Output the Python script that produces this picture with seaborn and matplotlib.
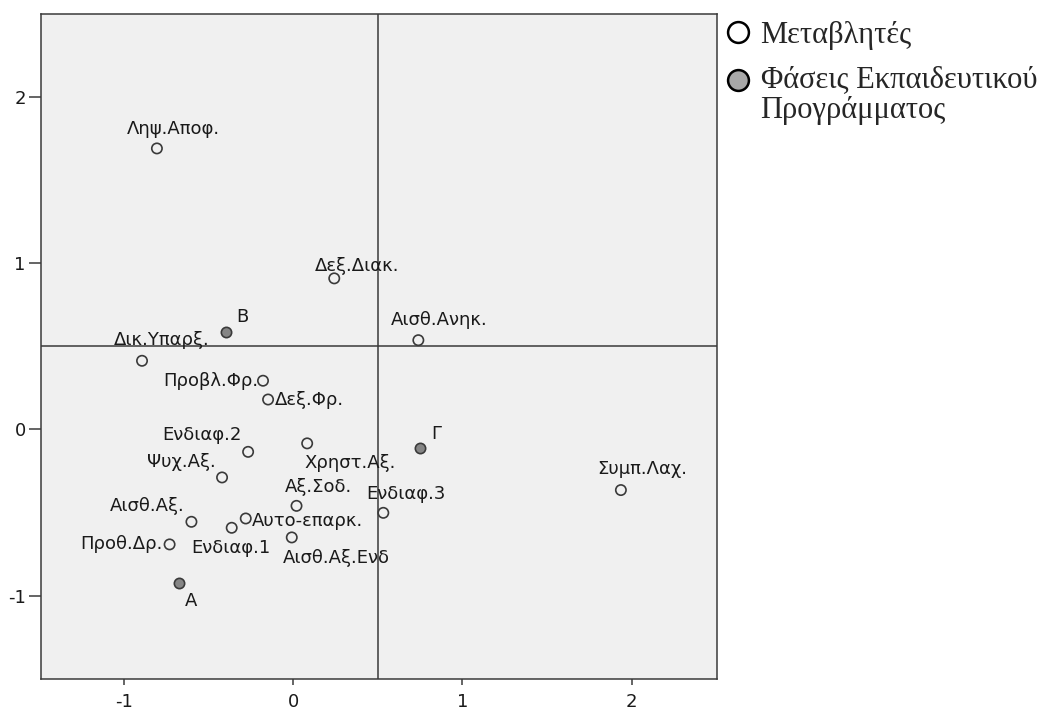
import matplotlib
matplotlib.use("Agg")
import matplotlib.pyplot as plt
import seaborn as sns
import pandas as pd
from matplotlib.lines import Line2D

# ---------------- data ----------------
var_labels = ["Ληψ.Αποφ.", "Δεξ.Διακ.", "Αισθ.Ανηκ.", "Δικ.Υπαρξ.", "Προβλ.Φρ.",
              "Δεξ.Φρ.", "Ενδιαφ.2", "Χρηστ.Αξ.", "Ψυχ.Αξ.", "Αξ.Σοδ.",
              "Ενδιαφ.3", "Αισθ.Αξ.", "Αυτο-επαρκ.", "Ενδιαφ.1", "Αισθ.Αξ.Ενδ",
              "Προθ.Δρ.", "Συμπ.Λαχ."]
var_x = [-0.805, 0.243, 0.740, -0.893, -0.178, -0.148, -0.266, 0.083, -0.420,
         0.020, 0.533, -0.601, -0.280, -0.363, -0.008, -0.730, 1.937]
var_y = [1.691, 0.909, 0.537, 0.413, 0.293, 0.180, -0.135, -0.084, -0.289,
         -0.460, -0.502, -0.556, -0.536, -0.592, -0.650, -0.692, -0.365]

phase_labels = ["Α", "Β", "Γ"]
phase_x = [-0.676, -0.396, 0.750]
phase_y = [-0.923, 0.584, -0.111]

legend_labels = ["Μεταβλητές", "Φάσεις Εκπαιδευτικού\nΠρογράμματος"]
x_ticks = [-1, 0, 1, 2]
y_ticks = [-1, 0, 1, 2]
ref_x = 0.5
ref_y = 0.5

# ---------------- layout: label offsets (px from point; dx, dy up, ha) -------
label_layout = {
    "Ληψ.Αποφ.": (-30, 19, "left"),
    "Δεξ.Διακ.": (-19, 12, "left"),
    "Αισθ.Ανηκ.": (-27, 20, "left"),
    "Δικ.Υπαρξ.": (-28, 21, "left"),
    "Προβλ.Φρ.": (-5, 0, "right"),
    "Δεξ.Φρ.": (7, 0, "left"),
    "Ενδιαφ.2": (-6, 17, "right"),
    "Χρηστ.Αξ.": (-3, -20, "left"),
    "Ψυχ.Αξ.": (-6, 15, "right"),
    "Αξ.Σοδ.": (-12, 19, "left"),
    "Ενδιαφ.3": (-17, 19, "left"),
    "Αισθ.Αξ.": (-7, 16, "right"),
    "Αυτο-επαρκ.": (6, -3, "left"),
    "Ενδιαφ.1": (-1, -20, "center"),
    "Αισθ.Αξ.Ενδ": (-9, -21, "left"),
    "Προθ.Δρ.": (-7, 0, "right"),
    "Συμπ.Λαχ.": (-24, 21, "left"),
    "Α": (6, -18, "left"),
    "Β": (10, 15, "left"),
    "Γ": (11, 14, "left"),
}

sns.set_style("white")
plt.rcParams["font.family"] = ["DejaVu Sans"]

W, H = 1056, 710
fig = plt.figure(figsize=(W / 100, H / 100), dpi=100)
ax = fig.add_axes([41 / W, 1 - 679 / H, (717 - 41) / W, (679 - 14) / H])

edge = "#3a3a3a"
ax.set_facecolor("#f0f0f0")

df_var = pd.DataFrame({"x": var_x, "y": var_y, "label": var_labels})
df_ph = pd.DataFrame({"x": phase_x, "y": phase_y, "label": phase_labels})

ax.axvline(ref_x, color=edge, lw=1.1, zorder=1)
ax.axhline(ref_y, color=edge, lw=1.1, zorder=1)

sns.scatterplot(data=df_var, x="x", y="y", ax=ax, s=55, marker="o",
                facecolor="none", edgecolor=edge, linewidth=1.2, zorder=3)
sns.scatterplot(data=df_ph, x="x", y="y", ax=ax, s=55, marker="o",
                color="#858585", edgecolor=edge, linewidth=1.2, zorder=3)

fs = 13
for df in (df_var, df_ph):
    for _, r in df.iterrows():
        dx, dy, ha = label_layout[r["label"]]
        ax.annotate(r["label"], (r["x"], r["y"]), xytext=(dx * 0.72, dy * 0.72),
                    textcoords="offset points", ha=ha, va="center",
                    fontsize=fs, color="#1a1a1a", zorder=4)

ax.set_xlim(-1.49, 2.505)
ax.set_ylim(-1.502, 2.5)
ax.set_xticks(x_ticks)
ax.set_yticks(y_ticks)
ax.set_xticklabels([str(t) for t in x_ticks])
ax.set_yticklabels([str(t) for t in y_ticks])
ax.set_xlabel("")
ax.set_ylabel("")
ax.tick_params(axis="y", length=9, width=1.1, color=edge, pad=2,
               labelsize=fs, labelcolor="#1a1a1a", left=True)
ax.tick_params(axis="x", length=4, width=1.1, color=edge, pad=6,
               labelsize=fs, labelcolor="#1a1a1a", bottom=True)
for sp in ax.spines.values():
    sp.set_color(edge)
    sp.set_linewidth(1.1)
    sp.set_visible(True)

handles = [
    Line2D([], [], marker="o", linestyle="none", markersize=15,
           markerfacecolor="white", markeredgecolor="black", markeredgewidth=1.8),
    Line2D([], [], marker="o", linestyle="none", markersize=15,
           markerfacecolor="#a8a8a8", markeredgecolor="black", markeredgewidth=1.8),
]
leg = fig.legend(handles, legend_labels, loc="upper left",
                 bbox_to_anchor=(727 / W, 1 - 21 / H), frameon=False,
                 prop={"family": "Liberation Serif", "size": 22},
                 handletextpad=0.35, handlelength=0.75, borderpad=0.0,
                 labelspacing=0.49, borderaxespad=0.0)
for t in leg.get_texts():
    t.set_linespacing(1.07)
# align the second marker with the first line of its two-line label
h2 = leg.legend_handles[1]
h2.set_ydata([v + 10.8 for v in h2.get_ydata()])

fig.savefig("out.png", dpi=100)
